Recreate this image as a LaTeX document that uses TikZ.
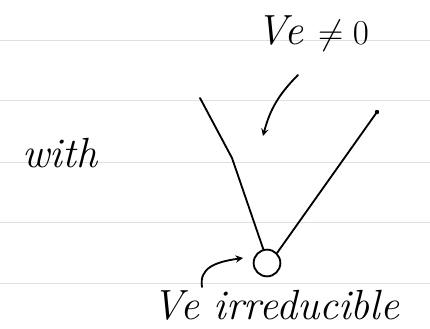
\documentclass[tikz,border=0pt]{standalone}
\usepackage{amsmath, amssymb}
\usepackage{tikz}

\tikzset{
  papline/.style={black!12, line width=0.6pt},
  pen/.style={line width=1.3pt, line cap=round},
  handtext/.style={font=\fontsize{30}{36}\selectfont\itshape}
}

\begin{document}
\begin{tikzpicture}[x=0.025cm, y=-0.025cm]

\useasboundingbox (0,0) rectangle (430,329);

\foreach \y in {40,100,162,222,283}
\draw[papline] (0,\y) -- (430,\y);

\node[handtext] (with) at (60,153) {with};
\node[handtext] (neq) at (313,33) {Ve $\neq 0$};
\node[handtext] (irr) at (276,305) {Ve irreducible};

\node[draw, circle, pen, minimum size=19pt, inner sep=0pt] (vtx) at (267,263) {};

\coordinate (lt) at (200,98);
\coordinate (lk) at (232,158);
\coordinate (rt) at (377,112);
\draw[pen] (lt) -- (lk) -- (vtx.105);
\draw[pen] (vtx.north east) -- (rt);
\fill (rt) circle (2.2);

\coordinate (a1) at (298,75);
\coordinate (a2) at (263,136);
\draw[pen, ->, >=stealth] (a1) to[bend right=15] (a2);

\coordinate (b1) at (202,287);
\coordinate (b2) at (243,258);
\draw[pen, ->, >=stealth] (b1) .. controls (199,268) and (215,262) .. (b2);

\end{tikzpicture}
\end{document}
